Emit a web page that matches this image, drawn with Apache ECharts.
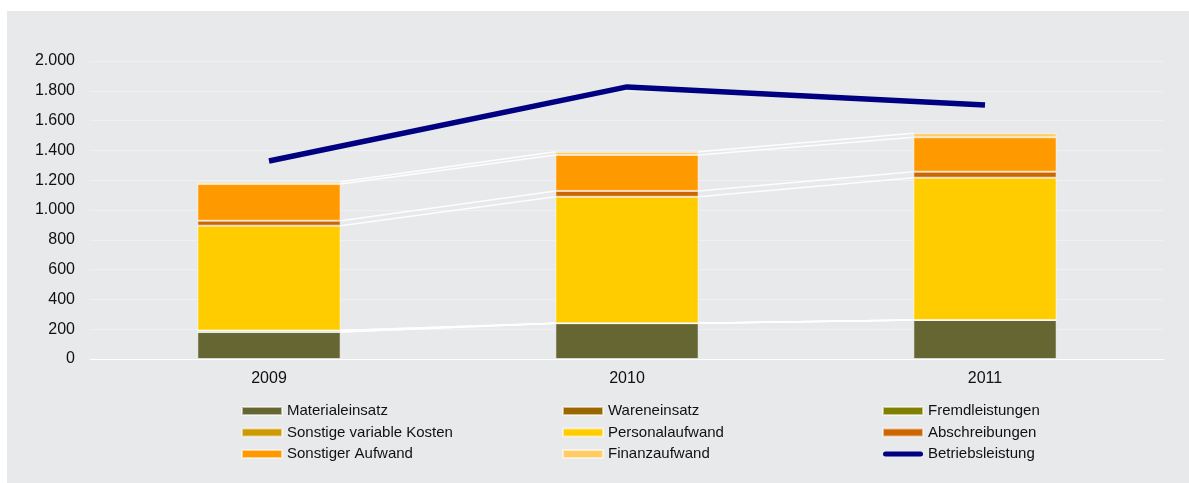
<!DOCTYPE html>
<html>
<head>
<meta charset="utf-8">
<script src="https://cdn.jsdelivr.net/npm/echarts@6/dist/echarts.min.js"></script>
<style>
  html, body { margin: 0; padding: 0; background: #ffffff; }
  #panel { position: absolute; left: 7px; top: 11px; width: 1182px; height: 472px; background: #e8e9eb; }
  #chart { position: absolute; left: 0; top: 0; width: 1189px; height: 483px; }
</style>
</head>
<body>
<div id="panel"></div>
<div id="chart"></div>
<script>
// Jahre
const years = ['2009', '2010', '2011'];

// Aufwandspositionen (gestapelt)
const materialeinsatz = [181, 240, 262];
const wareneinsatz = [0, 0, 0];
const fremdleistungen = [10, 0, 0];
const sonstigeVariableKosten = [0, 0, 0];
const personalaufwand = [704, 849, 955];
const abschreibungen = [33, 39, 40];
const sonstigerAufwand = [246, 241, 231];
const finanzaufwand = [16, 22, 27];

// Betriebsleistung (Linie)
const betriebsleistung = [1329, 1826, 1705];

// Achsenbeschriftung
const yTicks = { min: 0, max: 2000, interval: 200 };

const FONT = "'Liberation Sans', Arial, sans-serif";

const stackSeries = [
  { name: 'Materialeinsatz', data: materialeinsatz, color: '#666633' },
  { name: 'Wareneinsatz', data: wareneinsatz, color: '#996600' },
  { name: 'Fremdleistungen', data: fremdleistungen, color: '#808000' },
  { name: 'Sonstige variable Kosten', data: sonstigeVariableKosten, color: '#cc9900' },
  { name: 'Personalaufwand', data: personalaufwand, color: '#ffcc00' },
  { name: 'Abschreibungen', data: abschreibungen, color: '#cc6600' },
  { name: 'Sonstiger Aufwand', data: sonstigerAufwand, color: '#ff9900' },
  { name: 'Finanzaufwand', data: finanzaufwand, color: '#ffcc66' }
];

// Verbindungslinien zwischen den Säulen an jeder Segmentoberkante
const connectorData = [];
const cum = years.map(() => 0);
stackSeries.forEach(s => {
  years.forEach((y, i) => { cum[i] += s.data[i]; });
  for (let i = 0; i < years.length - 1; i++) {
    connectorData.push([i, cum[i], cum[i + 1]]);
  }
});

const barSeries = stackSeries.map(s => ({
  name: s.name,
  type: 'bar',
  stack: 'aufwand',
  data: s.data,
  barCategoryGap: '60%',
  itemStyle: { color: s.color, borderColor: 'rgba(255,255,255,0.55)', borderWidth: 1 },
  emphasis: { disabled: true }
}));

// Legendensymbol der Linie: flacher Balken mit runden Enden
const lineIcon = 'path://M2.5,0 L37.5,0 A2.5,2.5 0 0 1 37.5,5 L2.5,5 A2.5,2.5 0 0 1 2.5,0 Z';

const legendBase = {
  orient: 'vertical',
  top: 403,
  padding: 0,
  itemWidth: 40,
  itemHeight: 8,
  itemGap: 5.5,
  icon: 'rect',
  symbolKeepAspect: true,
  textStyle: { fontFamily: FONT, fontSize: 15, color: '#111', lineHeight: 16 },
  selectedMode: false
};

const option = {
  animation: false,
  backgroundColor: 'transparent',
  grid: { left: 90, right: 25, top: 61, bottom: 124 },
  xAxis: {
    type: 'category',
    data: years,
    axisLine: { lineStyle: { color: '#ffffff', width: 1 } },
    axisTick: { show: false },
    axisLabel: { fontFamily: FONT, fontSize: 16, color: '#111', margin: 12 }
  },
  yAxis: {
    type: 'value',
    min: yTicks.min,
    max: yTicks.max,
    interval: yTicks.interval,
    axisLine: { show: false },
    axisTick: { show: false },
    splitLine: { lineStyle: { color: '#eff0f2', width: 1 } },
    axisLabel: {
      fontFamily: FONT, fontSize: 16, color: '#111', margin: 15,
      formatter: v => v.toLocaleString('de-DE')
    }
  },
  legend: [
    Object.assign({}, legendBase, { left: 241, data: ['Materialeinsatz', 'Sonstige variable Kosten', 'Sonstiger Aufwand'] }),
    Object.assign({}, legendBase, { left: 562, data: ['Wareneinsatz', 'Personalaufwand', 'Finanzaufwand'] }),
    Object.assign({}, legendBase, { left: 882, data: ['Fremdleistungen', 'Abschreibungen',
      { name: 'Betriebsleistung', icon: lineIcon, itemStyle: { color: '#000080', borderWidth: 0 } }] })
  ],
  series: [
    {
      name: 'Verbindungslinien',
      type: 'custom',
      data: connectorData,
      encode: { x: 0, y: [1, 2] },
      z: 1,
      silent: true,
      renderItem: function (params, api) {
        const i = api.value(0);
        const p1 = api.coord([i, api.value(1)]);
        const p2 = api.coord([i + 1, api.value(2)]);
        const half = api.size([1, 0])[0] * 0.2;
        return {
          type: 'line',
          shape: { x1: p1[0] + half, y1: p1[1], x2: p2[0] - half, y2: p2[1] },
          style: { stroke: 'rgba(255,255,255,0.9)', lineWidth: 1.5 }
        };
      }
    },
    ...barSeries,
    {
      name: 'Betriebsleistung',
      type: 'line',
      data: betriebsleistung,
      symbol: 'none',
      z: 5,
      lineStyle: { color: '#000080', width: 5.5 },
      itemStyle: { color: '#000080' },
      emphasis: { disabled: true }
    }
  ]
};

const chart = echarts.init(document.getElementById('chart'), null, { renderer: 'canvas' });
chart.setOption(option);
</script>
</body>
</html>
